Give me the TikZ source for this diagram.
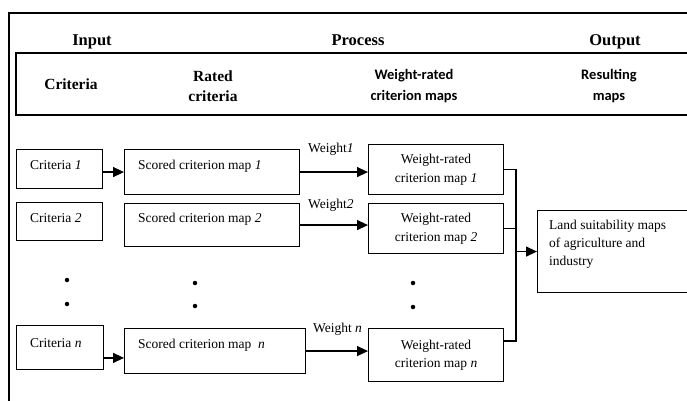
\documentclass[tikz,border=0pt]{standalone}
\usepackage{fontspec}
\setmainfont{Liberation Serif}
\newfontfamily\calb{Carlito}
\usetikzlibrary{arrows.meta,calc}
\begin{document}
\begin{tikzpicture}[x=1pt,y=-1pt,
  bx/.style={draw,line width=1.1pt,anchor=north west,inner sep=0pt},
  txt/.style={font=\fontsize{13.5}{18}\selectfont,inner sep=0pt,anchor=base west},
  wr/.style={bx,font=\fontsize{13.5}{18.5}\selectfont,align=center,minimum width=135},
  hd/.style={font=\fontsize{16.5}{20}\selectfont\bfseries,inner sep=0pt,anchor=base},
  sub/.style={font=\fontsize{15.5}{20}\selectfont\bfseries,inner sep=0pt,align=center},
  subs/.style={font=\fontsize{14.5}{21}\selectfont\calb\bfseries,inner sep=0pt,align=center},
  con/.style={line width=1.3pt},
  arr/.style={con,-{Triangle[length=11pt,width=10pt]}},
  dot/.style={fill,circle,inner sep=0pt,minimum size=4.5pt}
]
\useasboundingbox (0,0) rectangle (687,400);
\clip (0,0) rectangle (687,400);
% outer frame and header box
\draw[line width=1.4pt] (9,410) -- (9,13) -- (700,13);
\draw[line width=1.4pt] (700,53) -- (16,53) -- (16,115) -- (700,115);
% headers
\node[hd] (hin) at (92,45) {Input};
\node[hd] (hpr) at (358,45) {Process};
\node[hd] (hout) at (615,45) {Output};
\node[sub] (scrit) at (71,84) {Criteria};
\node[sub] (srat) at (213,86) {Rated\\criteria};
\node[subs] (swr) at (414,86) {Weight-rated\\criterion maps};
\node[subs] (sres) at (609,86) {Resulting\\maps};
% boxes
\node[bx,minimum width=86,minimum height=39] (c1) at (16,149) {};
\node[bx,minimum width=175,minimum height=45] (s1) at (124,149) {};
\node[bx,minimum width=86,minimum height=38] (c2) at (16,202) {};
\node[bx,minimum width=175,minimum height=43] (s2) at (124,203) {};
\node[bx,minimum width=87,minimum height=44] (cn) at (16,325) {};
\node[bx,minimum width=181,minimum height=45] (sn) at (124,328) {};
\node[txt] (tc1) at (30,169) {Criteria \textit{1}};
\node[txt] (ts1) at (138,169) {Scored criterion map \textit{1}};
\node[txt] (tc2) at (30,222) {Criteria \textit{2}};
\node[txt] (ts2) at (138,222) {Scored criterion map \textit{2}};
\node[txt] (tcn) at (30,347) {Criteria \textit{n}};
\node[txt] (tsn) at (138,348) {Scored criterion map~~\textit{n}};
\node[wr,minimum height=50] (w1) at (368,144) {Weight-rated\\criterion map \textit{1}};
\node[wr,minimum height=50] (w2) at (368,203) {Weight-rated\\criterion map \textit{2}};
\node[wr,minimum height=53] (wn) at (368,328) {Weight-rated\\criterion map \textit{n}};
\node[bx,minimum width=170,minimum height=82] (land) at (537,210) {};
\node[font=\fontsize{13.5}{18}\selectfont,inner sep=0pt,anchor=north west,align=left] (tland) at (549,219.5) {Land suitability maps\\of agriculture and\\industry};
% weight labels
\node[txt] (lw1) at (308,152) {Weight\textit{1}};
\node[txt] (lw2) at (308,208) {Weight\textit{2}};
\node[txt] (lwn) at (313,332) {Weight \textit{n}};
% dots
\node[dot] (d1a) at (67,280) {};
\node[dot] (d1b) at (67,304) {};
\node[dot] (d2a) at (195,283) {};
\node[dot] (d2b) at (195,306) {};
\node[dot] (d3a) at (413,283) {};
\node[dot] (d3b) at (413,307) {};
% connectors
\draw[arr] (c1.east |- s1.west) -- (s1.west);
\path ($(cn.south east)!0.27!(cn.north east)$) coordinate (an);
\draw[arr] (an) -- (an -| sn.west);
\draw[arr] (s1.east) -- (s1.east -| w1.west);
\draw[arr] (s2.east) -- (s2.east -| w2.west);
\draw[arr] (sn.east) -- (sn.east -| wn.west);
\path (w1.east) ++(12,0) coordinate (j1);
\path ($(wn.north east)!0.24!(wn.south east)$) coordinate (wnc);
\draw[con] (w1.east) -- (j1) -- (j1 |- wnc) -- (wnc);
\draw[con] (w2.east) -- (w2.east -| j1);
\draw[arr] (j1 |- land.west) -- (land.west);
\end{tikzpicture}
\end{document}
